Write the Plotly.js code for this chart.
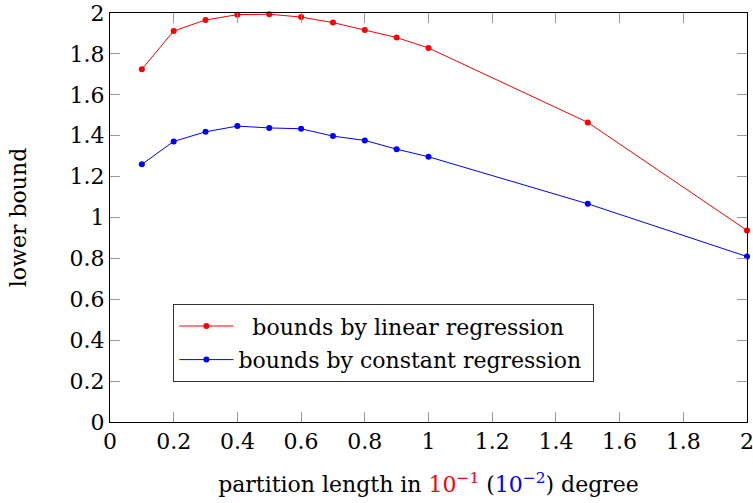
<!DOCTYPE html>
<html>
<head>
<meta charset="utf-8">
<script src="https://cdn.plot.ly/plotly-3.0.1.min.js"></script>
<style>html,body{margin:0;padding:0;background:#fff;}#chart{width:753px;height:503px;}</style>
</head>
<body>
<div id="chart"></div>
<script>
var partitionLength = [0.1, 0.2, 0.3, 0.4, 0.5, 0.6, 0.7, 0.8, 0.9, 1.0, 1.5, 2.0];
var linearBounds = [1.725, 1.912, 1.966, 1.992, 1.994, 1.98, 1.953, 1.917, 1.88, 1.829, 1.465, 0.937];
var constantBounds = [1.26, 1.372, 1.419, 1.447, 1.438, 1.434, 1.398, 1.377, 1.334, 1.297, 1.067, 0.809];
var xTicks = [0, 0.2, 0.4, 0.6, 0.8, 1, 1.2, 1.4, 1.6, 1.8, 2];
var yTicks = [0, 0.2, 0.4, 0.6, 0.8, 1, 1.2, 1.4, 1.6, 1.8, 2];
var seriesNames = ['\u00a0\u00a0bounds by linear regression', 'bounds by constant regression\u00a0'];

var font = {family: 'DejaVu Serif', size: 22, color: '#000'};

var traces = [
  {x: partitionLength, y: linearBounds, name: seriesNames[0], mode: 'lines+markers', legendgroup: 'a',
   line: {color: '#ff0000', width: 1}, marker: {color: '#ff0000', size: 6}, cliponaxis: false},
  {x: partitionLength, y: constantBounds, name: seriesNames[1], mode: 'lines+markers', legendgroup: 'b',
   line: {color: '#0000ff', width: 1}, marker: {color: '#0000ff', size: 6}, cliponaxis: false}
];

var axisCommon = {
  showgrid: false, zeroline: false, showline: true, linecolor: '#000', linewidth: 1,
  mirror: 'ticks', ticks: 'inside', ticklen: 10, tickcolor: '#999', tickwidth: 1,
  tickfont: font, ticklabeloverflow: 'allow'
};

var layout = {
  width: 753, height: 503,
  margin: {l: 110, r: 6, t: 13, b: 81},
  paper_bgcolor: '#fff', plot_bgcolor: '#fff',
  font: font,
  showlegend: true,
  legend: {x: 0.0995, y: 0.288, xanchor: 'left', yanchor: 'top',
    bordercolor: '#333', borderwidth: 1, bgcolor: '#fff', font: font,
    tracegroupgap: 2, itemwidth: 54},
  xaxis: Object.assign({}, axisCommon, {
    range: [0, 2], tickvals: xTicks, ticktext: xTicks.map(String),
    title: {text: 'partition length in <span style="color:#ff0000">10<sup>\u22121</sup></span> (<span style="color:#0000ff">10<sup>\u22122</sup></span>) degree', font: font, standoff: 23}
  }),
  yaxis: Object.assign({}, axisCommon, {
    range: [0, 2], tickvals: yTicks, ticktext: yTicks.map(String),
    title: {text: 'lower bound', font: font, standoff: 36}
  })
};

Plotly.newPlot('chart', traces, layout, {displayModeBar: false, staticPlot: true});
</script>
</body>
</html>
